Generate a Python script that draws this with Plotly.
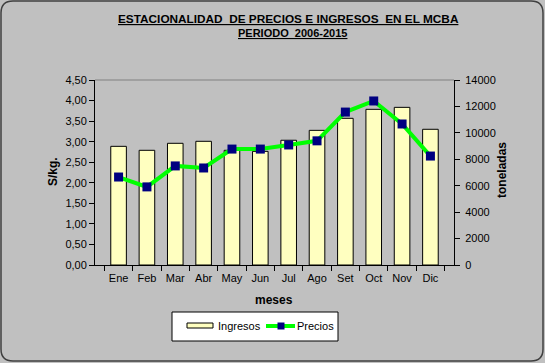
import plotly.graph_objects as go

meses = ["Ene", "Feb", "Mar", "Abr", "May", "Jun", "Jul", "Ago", "Set", "Oct", "Nov", "Dic"]
ingresos = [8980, 8680, 9210, 9360, 8680, 8600, 9440, 10190, 11100, 11780, 11930, 10270]
precios = [2.14, 1.90, 2.41, 2.36, 2.82, 2.82, 2.92, 3.02, 3.72, 3.99, 3.43, 2.65]

W, H = 545, 363
L, R, T, B = 95, 454, 80, 265

def px(x):
    return (x - L) / (R - L)

def py(y):
    return (B - y) / (B - T)

FONT = "Liberation Sans, Arial, sans-serif"
GRAY = "#C0C0C0"

fig = go.Figure()
fig.add_trace(go.Bar(
    x=meses, y=ingresos, name="Ingresos", yaxis="y",
    marker=dict(color="#FFFFC0", line=dict(color="black", width=1)),
    width=0.55, showlegend=False,
))
fig.add_trace(go.Scatter(
    x=meses, y=precios, name="Precios", yaxis="y2", mode="lines+markers",
    line=dict(color="#00FF00", width=4),
    marker=dict(symbol="square", size=9, color="#000080"),
    showlegend=False,
))

# rounded outer border
x0, x1, y0, y1, r = 1, 543, 1, 361, 12
path = (f"M {px(x0 + r)},{py(y0)} L {px(x1 - r)},{py(y0)} "
        f"Q {px(x1)},{py(y0)} {px(x1)},{py(y0 + r)} "
        f"L {px(x1)},{py(y1 - r)} Q {px(x1)},{py(y1)} {px(x1 - r)},{py(y1)} "
        f"L {px(x0 + r)},{py(y1)} Q {px(x0)},{py(y1)} {px(x0)},{py(y1 - r)} "
        f"L {px(x0)},{py(y0 + r)} Q {px(x0)},{py(y0)} {px(x0 + r)},{py(y0)} Z")

shapes = [
    dict(type="line", xref="paper", yref="paper", x0=0, x1=1, y0=1, y1=1,
         line=dict(color="#808080", width=1)),
    dict(type="path", xref="paper", yref="paper", path=path,
         line=dict(color="#404040", width=1.5)),
    # legend box
    dict(type="rect", xref="paper", yref="paper", x0=px(172), x1=px(338),
         y0=py(312), y1=py(341), fillcolor="white", line=dict(color="black", width=1)),
    # Ingresos swatch
    dict(type="rect", xref="paper", yref="paper", x0=px(187), x1=px(213),
         y0=py(323), y1=py(328), fillcolor="#FFFFC0", line=dict(color="black", width=1)),
    # Precios swatch line
    dict(type="line", xref="paper", yref="paper", x0=px(266), x1=px(295),
         y0=py(326), y1=py(326), line=dict(color="#00FF00", width=4)),
    # Precios swatch marker
    dict(type="rect", xref="paper", yref="paper", x0=px(277.5), x1=px(284.5),
         y0=py(322.5), y1=py(329.5), fillcolor="#000080", line=dict(color="#000080", width=0)),
]

def ann(text, x, y, size=11, angle=0, xanchor="center"):
    return dict(text=text, xref="paper", yref="paper", x=px(x), y=py(y),
                showarrow=False, textangle=angle, xanchor=xanchor, yanchor="middle",
                font=dict(size=size))

fig.update_layout(
    width=W, height=H,
    margin=dict(l=L, r=W - R, t=T, b=H - B),
    paper_bgcolor=GRAY, plot_bgcolor=GRAY,
    font=dict(family=FONT, size=11, color="black"),
    separators=",.",
    showlegend=False,
    xaxis=dict(
        type="category", showgrid=False, showline=True, linecolor="black", linewidth=1,
        ticks="outside", ticklen=5, tickcolor="black", tickson="boundaries",
        tickfont=dict(size=11), tickangle=0, zeroline=False, ticklabelstandoff=3,
    ),
    yaxis=dict(
        side="right", range=[0, 14000], dtick=2000, tickformat="d",
        showgrid=False, showline=True, linecolor="black", linewidth=1,
        ticks="outside", ticklen=5, tickcolor="black", zeroline=False,
        tickfont=dict(size=11), ticklabelstandoff=3,
    ),
    yaxis2=dict(
        overlaying="y", side="left", range=[0, 4.5], dtick=0.5, tickformat=".2f",
        showgrid=False, showline=True, linecolor="black", linewidth=1,
        ticks="outside", ticklen=5, tickcolor="black", zeroline=False,
        tickfont=dict(size=11),
    ),
    shapes=shapes,
    annotations=[
        ann("<b><u>ESTACIONALIDAD  DE PRECIOS E INGRESOS  EN EL MCBA</u></b>", 288, 19, 11.8),
        ann("<b><u>PERIODO  2006-2015</u></b>", 292, 33, 11),
        ann("<b>S/kg.</b>", 53, 172, 12, -90),
        ann("<b>toneladas</b>", 502, 170, 12, -90),
        ann("<b>meses</b>", 274, 300, 12),
        ann("Ingresos", 216, 326, 11, xanchor="left"),
        ann("Precios", 295, 326, 11, xanchor="left"),
    ],
)

fig.write_html("out.html", config={"displayModeBar": False},
               post_script="document.body.style.margin='0';")
